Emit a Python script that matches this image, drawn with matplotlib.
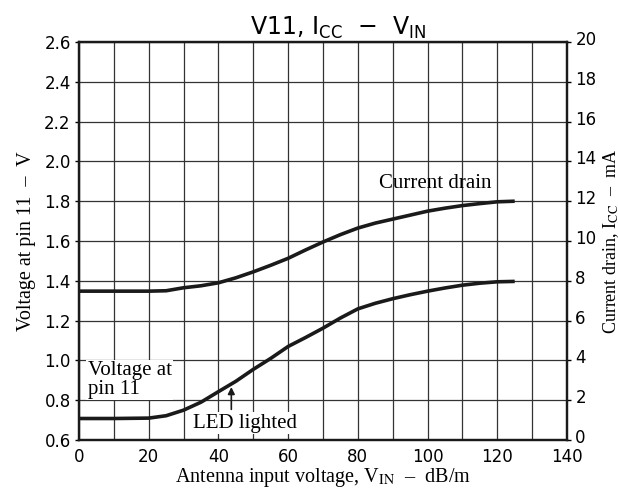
import matplotlib.pyplot as plt
from matplotlib.ticker import MultipleLocator
from matplotlib.transforms import ScaledTranslation

# values
vin = [0, 10, 20, 25, 30, 35, 40, 45, 50, 55, 60, 65, 70, 75, 80, 85, 90, 95, 100, 105, 110, 115, 120, 125]
icc_ma = [7.48, 7.48, 7.48, 7.5, 7.65, 7.75, 7.9, 8.15, 8.45, 8.78, 9.13, 9.55, 9.95, 10.32, 10.65, 10.9,
          11.1, 11.3, 11.5, 11.65, 11.78, 11.88, 11.97, 12.0]
v11 = [0.708, 0.708, 0.71, 0.722, 0.75, 0.79, 0.843, 0.895, 0.955, 1.01, 1.07, 1.115, 1.162, 1.213, 1.259,
       1.287, 1.31, 1.33, 1.348, 1.364, 1.378, 1.388, 1.395, 1.397]
led_x = 43.7

sans = 'DejaVu Sans'
serif = 'Liberation Serif'

fig = plt.figure(figsize=(6.18, 4.90), dpi=100)
ax = fig.add_axes([79 / 618, 1 - 440 / 490, 488 / 618, 398 / 490])
ax2 = ax.twinx()

ax.set_xlim(0, 140)
ax.set_ylim(0.6, 2.6)
ax2.set_ylim(0, 20)

ax.plot(vin, v11, color='#1a1a1a', lw=2.6, solid_capstyle='butt', zorder=3)
ax2.plot(vin, icc_ma, color='#1a1a1a', lw=2.6, solid_capstyle='butt', zorder=3)

ax.xaxis.set_major_locator(MultipleLocator(20))
ax.xaxis.set_minor_locator(MultipleLocator(10))
ax.yaxis.set_major_locator(MultipleLocator(0.2))
ax2.yaxis.set_major_locator(MultipleLocator(2))
ax.yaxis.set_major_formatter(lambda v, p: f'{v:.1f}')

ax.grid(True, which='both', axis='x', color='#333333', lw=0.9)
ax.grid(True, which='major', axis='y', color='#333333', lw=0.9)
ax.set_axisbelow(True)

for a in (ax, ax2):
    for s in a.spines.values():
        s.set_linewidth(1.6)
        s.set_color('#1a1a1a')
ax.tick_params(axis='x', which='both', length=0, pad=6, labelsize=12)
ax.tick_params(axis='y', length=3, width=1, pad=3, labelsize=12)
ax2.tick_params(axis='y', length=3, width=1, pad=3, labelsize=12)
for lab in ax.get_xticklabels() + ax.get_yticklabels() + ax2.get_yticklabels():
    lab.set_fontfamily(sans)
# right-hand labels sit a little above their grid lines in the original
lift = ScaledTranslation(0, 4 / 100, fig.dpi_scale_trans)
for lab in ax2.get_yticklabels():
    lab.set_transform(lab.get_transform() + lift)

ax.set_title('V11, I$_{\\rm CC}$  $-$  V$_{\\rm IN}$', fontsize=17, family=sans,
             math_fontfamily='dejavusans', pad=5, x=0.53)
ax.set_xlabel('Antenna input voltage, V$_{\\rm IN}$  –  dB/m', fontsize=14.5, family=serif,
              math_fontfamily='stix', labelpad=0)
ax.set_ylabel('Voltage at pin 11  –  V', fontsize=14.5, family=serif, labelpad=6)
ax2.set_ylabel('Current drain, I$_{\\rm CC}$  –  mA', fontsize=13, family=serif,
               math_fontfamily='stix', labelpad=3)

ax.text(86, 1.89, 'Current drain', fontsize=15, family=serif, va='center', ha='left')
ax.text(2.5, 0.995, 'Voltage at\npin 11', fontsize=15, family=serif, va='top', ha='left',
        linespacing=0.95, bbox=dict(facecolor='white', edgecolor='none', pad=1))
ax.text(47.6, 0.685, 'LED lighted', fontsize=15, family=serif, va='center', ha='center',
        bbox=dict(facecolor='white', edgecolor='none', pad=1))
ax.annotate('', xy=(led_x, 0.88), xytext=(led_x, 0.74),
            arrowprops=dict(arrowstyle='-|>', color='#1a1a1a', lw=1.2, mutation_scale=10))

fig.savefig('out.png', dpi=100)
